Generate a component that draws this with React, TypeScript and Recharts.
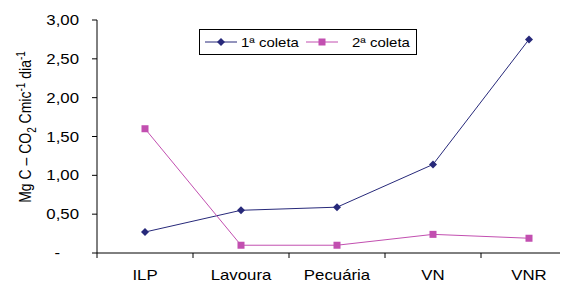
import { LineChart, Line, XAxis, YAxis } from "recharts"

const categories = ["ILP", "Lavoura", "Pecuária", "VN", "VNR"]
const coleta1 = [0.27, 0.55, 0.59, 1.14, 2.75]
const coleta2 = [1.6, 0.1, 0.1, 0.24, 0.19]
const yTicks = [0, 0.5, 1, 1.5, 2, 2.5, 3]
const seriesNames = ["1ª coleta", "2ª coleta"]

const data = categories.map((name, i) => ({ name, c1: coleta1[i], c2: coleta2[i] }))

const NAVY = "#27297A"
const MAGENTA = "#C24FB0"
const FONT = "'Liberation Sans', Arial, sans-serif"

const fmt = (v: number) => (v === 0 ? "-" : v.toFixed(2).replace(".", ","))

const Diamond = (props: any) => {
  const { cx, cy } = props
  return <path d={`M${cx},${cy - 4}L${cx + 4},${cy}L${cx},${cy + 4}L${cx - 4},${cy}Z`} fill={NAVY} />
}

const Square = (props: any) => {
  const { cx, cy } = props
  return <rect x={cx - 3.5} y={cy - 3.5} width={7} height={7} fill={MAGENTA} />
}

const XTick = (props: any) => {
  const { x, y, payload, index } = props
  const off = payload.offset ?? 48
  return (
    <g>
      <line x1={x - off} x2={x - off} y1={y - 8} y2={y - 3} stroke="#000" />
      {index === categories.length - 1 && (
        <line x1={x + off} x2={x + off} y1={y - 8} y2={y - 3} stroke="#000" />
      )}
      <text
        transform={`translate(${x},${y + 19}) scale(1.2,1)`}
        textAnchor="middle"
        fontSize={14}
        fontFamily={FONT}
        fill="#000"
      >
        {payload.value}
      </text>
    </g>
  )
}

const YTick = (props: any) => {
  const { x, y, payload } = props
  const zero = payload.value === 0
  return (
    <text
      transform={`translate(${x + (zero ? -30 : -11)},${y + 5}) scale(1.2,1)`}
      textAnchor="end"
      fontSize={14}
      fontFamily={FONT}
      fill="#000"
    >
      {fmt(payload.value)}
    </text>
  )
}

const Overlay = () => (
  <svg
    width={560}
    height={274}
    style={{ position: "absolute", left: 0, top: 0, pointerEvents: "none" }}
  >
    <text
      transform="translate(23,119) scale(1.2,1) rotate(-90)"
      textAnchor="middle"
      fontSize={14}
      fontFamily={FONT}
      fill="#000"
    >
      Mg C – CO<tspan fontSize={10} dy={4}>2</tspan>
      <tspan dy={-4}> Cmic</tspan>
      <tspan fontSize={10} dy={-5}>-1</tspan>
      <tspan dy={5}> dia</tspan>
      <tspan fontSize={10} dy={-5}>-1</tspan>
    </text>
    <g transform="translate(191,21)">
      <rect x={0.5} y={0.5} width={217} height={25} fill="#fff" stroke="#000" />
      <line x1={6} x2={38} y1={13} y2={13} stroke={NAVY} />
      <path d="M22,9L26,13L22,17L18,13Z" fill={NAVY} />
      <text transform="translate(42,17.5) scale(1.15,1)" fontSize={13} fontFamily={FONT}>
        {seriesNames[0]}
      </text>
      <line x1={107} x2={139} y1={13} y2={13} stroke={MAGENTA} />
      <rect x={119.5} y={9.5} width={7} height={7} fill={MAGENTA} />
      <text transform="translate(153,17.5) scale(1.15,1)" fontSize={13} fontFamily={FONT}>
        {seriesNames[1]}
      </text>
    </g>
  </svg>
)

export default function App() {
  return (
    <div style={{ width: 560, height: 274, overflow: "hidden", position: "relative" }}>
      <LineChart width={580} height={274} data={data} margin={{ top: 12, right: 11, bottom: 0, left: 0 }}>
        <XAxis
          dataKey="name"
          scale="band"
          axisLine={{ stroke: "#000" }}
          tickLine={false}
          tick={<XTick />}
          height={29}
          interval={0}
        />
        <YAxis
          domain={[0, 3]}
          ticks={yTicks}
          width={89}
          axisLine={{ stroke: "#000" }}
          tickLine={{ stroke: "#000" }}
          tickSize={5}
          tick={<YTick />}
        />
        <Line dataKey="c1" name={seriesNames[0]} stroke={NAVY} strokeWidth={1} dot={<Diamond />} isAnimationActive={false} />
        <Line dataKey="c2" name={seriesNames[1]} stroke={MAGENTA} strokeWidth={1} dot={<Square />} isAnimationActive={false} />
      </LineChart>
      <Overlay />
    </div>
  )
}
